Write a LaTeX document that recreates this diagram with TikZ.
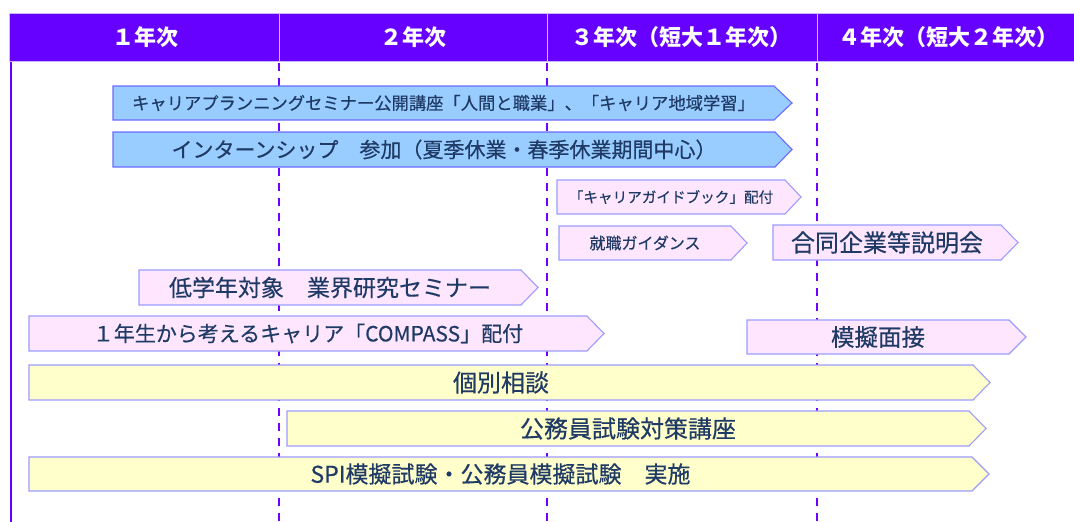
\documentclass[tikz,border=0pt]{standalone}
\usepackage{fontspec}
\setmainfont{Noto Sans CJK JP}
\newfontfamily\barfont[FakeBold=0.4]{Noto Sans CJK JP}
\definecolor{hdr}{HTML}{6600FF}
\definecolor{hdrline}{HTML}{C8B8FF}
\definecolor{dash}{HTML}{7000FF}
\definecolor{txt}{HTML}{1F3A64}
\definecolor{bluefill}{HTML}{99CCFF}
\definecolor{blueedge}{HTML}{6B6BFF}
\definecolor{pinkfill}{HTML}{FFE6FF}
\definecolor{yelfill}{HTML}{FFFFCC}
\definecolor{softedge}{HTML}{9C9CFF}
\tikzset{
  bluebar/.style={fill=bluefill,draw=blueedge,line width=1.1pt,line join=miter},
  pinkbar/.style={fill=pinkfill,draw=softedge,line width=1.1pt,line join=miter},
  yelbar/.style={fill=yelfill,draw=softedge,line width=1.1pt,line join=miter},
  bartext/.style={text=txt,inner sep=0pt,anchor=center},
  hdrtext/.style={text=white,inner sep=0pt,anchor=center,font=\fontsize{22pt}{22pt}\selectfont\bfseries},
  yearline/.style={draw=dash,line width=2.6pt,dash pattern=on 8pt off 7pt,dash phase=-2pt},
}
% name, style, left, top, bodyend, tip, bottom, fontsize, text
\newcommand\tbar[9]{%
  \draw[#2] (#3,#4) -- (#5,#4) -- (#6,{(#4+#7)/2}) -- (#5,#7) -- (#3,#7) -- cycle;
  \node[bartext,font=\barfont\fontsize{#8pt}{#8pt}\selectfont] (#1) at ({(#3+#5)/2},{(#4+#7)/2}) {#9};
}
\begin{document}
\begin{tikzpicture}[x=1pt,y=-1pt]
\useasboundingbox[fill=white] (0,0) rectangle (1074,522);
% year boundaries
\coordinate (d1t) at (279,61); \coordinate (d1b) at (279,522);
\coordinate (d2t) at (547,61); \coordinate (d2b) at (547,522);
\coordinate (d3t) at (817,61); \coordinate (d3b) at (817,522);
\draw[yearline] (d1t) -- (d1b);
\draw[yearline] (d2t) -- (d2b);
\draw[yearline] (d3t) -- (d3b);
% left border
\coordinate (lt) at (11,61); \coordinate (lb) at (11,522);
\draw[hdr,line width=2.4pt] (lt) -- (lb);
% header
\draw[fill=hdr,draw=hdrline,line width=1pt] (9,13) rectangle (1080,61);
\foreach \x in {279,547,817} \draw[hdrline,line width=1pt] (\x,13) -- (\x,61);
\node[hdrtext] (h1) at (145,37) {１年次};
\node[hdrtext] (h2) at (413,37) {２年次};
\node[hdrtext] (h3) at (681,37) {３年次（短大１年次）};
\node[hdrtext] (h4) at (948,37) {４年次（短大２年次）};
% bars
\tbar{b1}{bluebar}{113}{86}{774}{792}{120}{17.3}{キャリアプランニングセミナー公開講座「人間と職業」、「キャリア地域学習」}
\tbar{b2}{bluebar}{113}{132}{775}{792}{167}{21}{インターンシップ　参加（夏季休業・春季休業期間中心）}
\tbar{b3}{pinkbar}{557}{180}{785}{801}{214}{14.6}{「キャリアガイドブック」配付}
\tbar{b4}{pinkbar}{559}{226}{731}{747}{260}{16}{就職ガイダンス}
\tbar{b5}{pinkbar}{773}{225}{1001}{1018}{260}{24}{合同企業等説明会}
\tbar{b6}{pinkbar}{139}{270}{521}{538}{305}{23}{低学年対象　業界研究セミナー}
\tbar{b7}{pinkbar}{29}{316}{587}{604}{351}{21}{１年生から考えるキャリア「COMPASS」配付}
\tbar{b8}{pinkbar}{747}{320}{1009}{1026}{354}{23.5}{模擬面接}
\tbar{b9}{yelbar}{29}{365}{973}{990}{400}{24}{個別相談}
\tbar{b10}{yelbar}{287}{411}{969}{986}{446}{24}{公務員試験対策講座}
\tbar{b11}{yelbar}{29}{457}{972}{989}{491}{23}{SPI模擬試験・公務員模擬試験　実施}
\end{tikzpicture}
\end{document}
